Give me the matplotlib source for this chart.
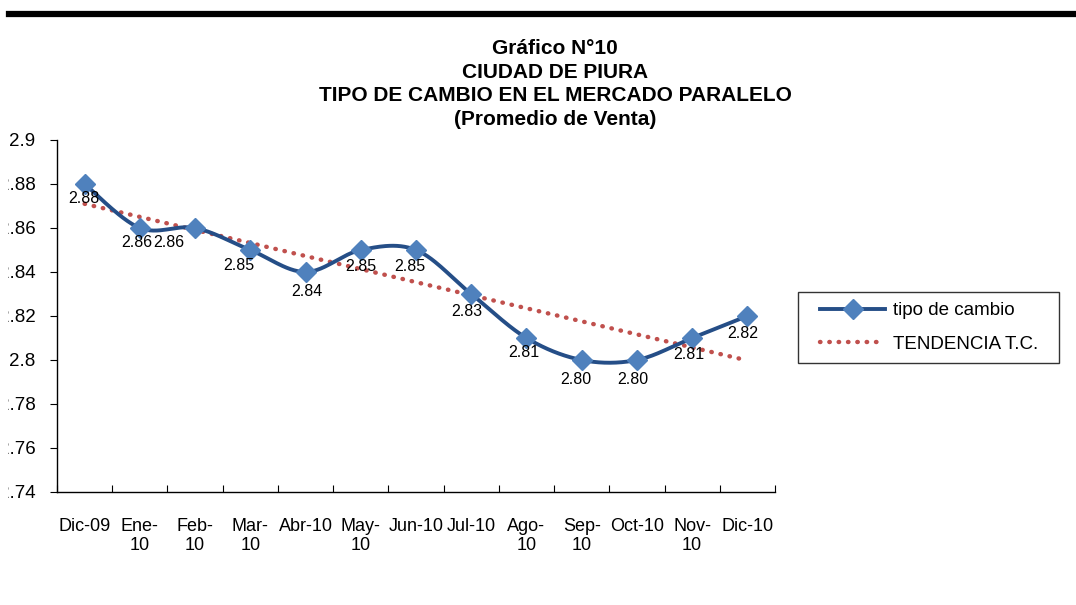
import numpy as np
import matplotlib
matplotlib.use("Agg")
import matplotlib.pyplot as plt
from matplotlib.lines import Line2D
from matplotlib.transforms import Bbox
from matplotlib.legend_handler import HandlerLine2D

# ---------------- data ----------------
categories = ["Dic-09", "Ene-\n10", "Feb-\n10", "Mar-\n10", "Abr-10", "May-\n10",
              "Jun-10", "Jul-10", "Ago-\n10", "Sep-\n10", "Oct-10", "Nov-\n10", "Dic-10"]
tipo_cambio = [2.88, 2.86, 2.86, 2.85, 2.84, 2.85, 2.85, 2.83, 2.81, 2.80, 2.80, 2.81, 2.82]
y_ticks = [2.74, 2.76, 2.78, 2.80, 2.82, 2.84, 2.86, 2.88, 2.90]
y_tick_labels = ["2.74", "2.76", "2.78", "2.8", "2.82", "2.84", "2.86", "2.88", "2.9"]
title_lines = ["Gráfico N°10", "CIUDAD DE PIURA",
               "TIPO DE CAMBIO EN EL MERCADO PARALELO", "(Promedio de Venta)"]
series_name = "tipo de cambio"
trend_name = "TENDENCIA T.C."

# label offsets in pixels (dx right, dy down)
label_offsets = [(-1, 15), (-3, 15), (-26, 15), (-11, 16), (1, 19), (0, 17), (-6, 17),
                 (-4, 18), (-3, 15), (-6, 20), (-4, 20), (-3, 17), (-5, 17)]

plt.rcParams['font.family'] = ['Liberation Sans', 'DejaVu Sans']

W, H = 1076, 605
fig = plt.figure(figsize=(W / 100, H / 100), dpi=100)

# top thick rule
fig.add_artist(Line2D([9 / W, 1.0], [1 - 14 / H, 1 - 14 / H], color='black', lw=4.5,
                      transform=fig.transFigure))

ax_left, ax_right, ax_top, ax_bottom = 57, 775, 140, 492
ax = fig.add_axes([ax_left / W, 1 - ax_bottom / H, (ax_right - ax_left) / W,
                   (ax_bottom - ax_top) / H])

n = len(tipo_cambio)
x = np.arange(n, dtype=float)
y = np.array(tipo_cambio)

# Excel-style smoothed line (Bezier through points)
pts = np.column_stack([x, y])
curve = []
t = np.linspace(0, 1, 30)
for i in range(n - 1):
    p0 = pts[max(i - 1, 0)]
    p1 = pts[i]
    p2 = pts[i + 1]
    p3 = pts[min(i + 2, n - 1)]
    c1 = p1 + (p2 - p0) / 6.0
    c2 = p2 - (p3 - p1) / 6.0
    seg = ((1 - t) ** 3)[:, None] * p1 + (3 * (1 - t) ** 2 * t)[:, None] * c1 + \
          (3 * (1 - t) * t ** 2)[:, None] * c2 + (t ** 3)[:, None] * p2
    curve.append(seg if i == 0 else seg[1:])
curve = np.vstack(curve)

line_color = '#254E87'
marker_color = '#4F81BD'
trend_color = '#C0504D'
dot_style = (0, (0.1, 2.0))

# trend line (linear regression)
slope, intercept = np.polyfit(x, y, 1)
ax.plot(x, slope * x + intercept, linestyle=dot_style, color=trend_color, lw=3.2,
        dash_capstyle='round', zorder=2)

ax.plot(curve[:, 0], curve[:, 1], color=line_color, lw=2.8, zorder=3,
        solid_capstyle='round')
ax.plot(x, y, linestyle='none', marker='D', markersize=10.5, color=marker_color,
        markeredgecolor=marker_color, zorder=4)

for xi, yi, (dx, dy) in zip(x, y, label_offsets):
    ax.annotate(f"{yi:.2f}", (xi, yi), xytext=(dx, -dy), textcoords='offset pixels',
                ha='center', va='center', fontsize=11.5, zorder=5)

ax.set_xlim(-0.5, n - 0.5)
ax.set_ylim(2.74, 2.90)
for s in ['top', 'right']:
    ax.spines[s].set_visible(False)
for s in ['left', 'bottom']:
    ax.spines[s].set_linewidth(1.0)

ax.set_yticks(y_ticks)
ax.set_yticklabels(y_tick_labels, fontsize=13.5)
ax.tick_params(axis='y', direction='out', length=5, pad=10.5)
clip = Bbox([[8, 0], [W, H]])
for lab in ax.get_yticklabels():
    lab.set_clip_box(clip)
    lab.set_clip_on(True)

ax.set_xticks(np.arange(n + 1) - 0.5)
ax.set_xticklabels([])
ax.set_xticks(x, minor=True)
ax.set_xticklabels(categories, minor=True, fontsize=13, linespacing=1.15)
ax.tick_params(axis='x', which='major', direction='in', length=5)
ax.tick_params(axis='x', which='minor', length=0, pad=19)

# title
fig.text(555 / W, 1 - 84 / H, "\n".join(title_lines), ha='center', va='center',
         fontsize=15, fontweight='bold', linespacing=1.33)

# legend
fs_leg = 13.5
em = fs_leg * 100 / 72
handles = [Line2D([], [], color=line_color, lw=2.8, marker='D', markersize=10.5,
                  markerfacecolor=marker_color, markeredgecolor=marker_color),
           Line2D([], [], color=trend_color, lw=3.2, linestyle=dot_style,
                  dash_capstyle='round')]
hmap = {h: HandlerLine2D(xpad=12 / em) for h in handles}
lx0, ly0, lx1, ly1 = 798, 292, 1059, 364
leg = fig.legend(handles, [series_name, trend_name], loc='upper left',
                 bbox_to_anchor=(lx0 / W, 1 - ly1 / H, (lx1 - lx0) / W, (ly1 - ly0) / H),
                 mode='expand', fontsize=fs_leg,
                 frameon=True, fancybox=False, edgecolor='black',
                 handlelength=77 / em, handletextpad=8 / em, borderpad=0.55,
                 labelspacing=0.85, borderaxespad=0, handler_map=hmap)
leg.get_frame().set_linewidth(1.0)

fig.savefig("out.png", dpi=100)
